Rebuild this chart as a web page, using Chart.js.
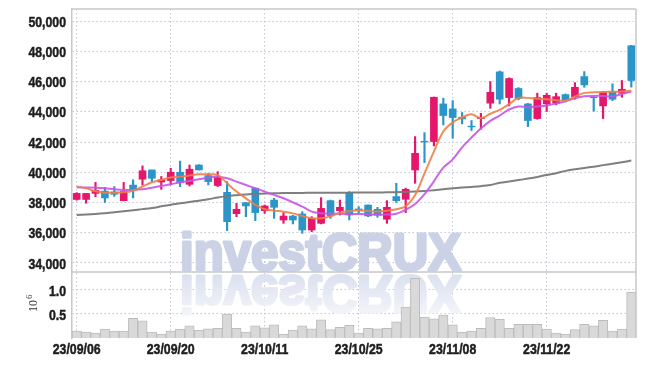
<!DOCTYPE html>
<html>
<head>
<meta charset="utf-8">
<script src="https://cdn.jsdelivr.net/npm/chart.js@4.4.0/dist/chart.umd.min.js"></script>
<style>
  body { margin: 0; background: #fff; }
</style>
</head>
<body>
<div style="width: 645px; height: 366px;">
  <canvas id="chart" width="645" height="366"></canvas>
</div>
<script>
const dates = ['23/09/06','23/09/07','23/09/08','23/09/11','23/09/12','23/09/13','23/09/14','23/09/15','23/09/18','23/09/19',
  '23/09/20','23/09/21','23/09/22','23/09/25','23/09/26','23/09/27','23/10/04','23/10/05','23/10/06','23/10/10',
  '23/10/11','23/10/12','23/10/13','23/10/16','23/10/17','23/10/18','23/10/19','23/10/20','23/10/23','23/10/24',
  '23/10/25','23/10/26','23/10/27','23/10/30','23/10/31','23/11/01','23/11/02','23/11/03','23/11/06','23/11/07',
  '23/11/08','23/11/09','23/11/10','23/11/13','23/11/14','23/11/15','23/11/16','23/11/17','23/11/20','23/11/21',
  '23/11/22','23/11/23','23/11/24','23/11/27','23/11/28','23/11/29','23/11/30','23/12/01','23/12/04','23/12/05'];

const open  = [38200,38200,38600,38750,38700,38120,39150,39540,40150,39350,39450,40000,39200,40480,39780,39120,38670,37260,37990,38940,
  37460,38160,36840,37100,37240,36180,36620,38120,37460,38650,37570,37830,37550,36890,38390,38210,40150,42050,42030,44520,
  44190,43640,43050,43550,44570,46640,44940,45540,44520,43550,44520,44570,45140,45000,46330,44960,44390,45340,45230,48370];
const high  = [38650,38600,39330,39000,39050,39330,39500,40420,40150,39720,40260,40740,40480,40500,39930,40040,39380,37940,38000,38950,
  37830,38280,37320,37150,37390,37060,38320,38160,38160,38720,37720,37840,37680,38120,39270,38950,42360,42620,44980,44900,
  44740,43950,43420,43900,46000,46700,46250,45600,44550,45230,45230,45230,45180,45930,46660,44990,45340,45850,46070,48400];
const low   = [38150,37950,38380,38000,38400,38100,38300,39150,39380,38870,39160,39050,39090,40150,39160,39050,36140,37060,37060,36800,
  37280,36950,36620,36580,35960,36070,36580,36950,37170,36840,37280,37060,37020,36620,38000,37330,39270,40640,41740,43130,
  42250,43200,42760,42850,44230,44520,44390,44790,43020,43510,44020,44460,44650,44830,45620,44040,43550,44740,44960,45630];
const close = [38600,38600,38800,38300,38540,38730,38830,40100,39600,39500,40000,39330,40200,40150,39380,39650,36730,37550,37770,37330,
  37770,37680,37100,36840,36180,36950,37610,37130,37680,37170,37490,37110,37170,37680,38120,38870,41250,42000,44960,43750,
  43620,43530,43000,43640,45290,44830,46200,44880,43420,44940,45090,45000,44790,45620,45780,44930,45300,44830,45490,46070];

// volume in millions of shares
const volume = [0.14,0.12,0.10,0.18,0.14,0.14,0.40,0.35,0.12,0.08,0.14,0.18,0.25,0.16,0.19,0.20,0.49,0.20,0.12,0.25,
  0.21,0.27,0.08,0.16,0.25,0.19,0.37,0.17,0.22,0.26,0.10,0.20,0.19,0.20,0.33,0.63,1.22,0.43,0.39,0.47,
  0.27,0.12,0.14,0.20,0.42,0.38,0.20,0.28,0.28,0.28,0.18,0.10,0.08,0.17,0.28,0.25,0.36,0.14,0.18,0.94];

// moving average lines
const ma5  = [39050,38940,38740,38650,38650,38670,38780,39050,39340,39490,39645,39710,39780,39865,39865,39820,39270,38720,38275,37835,
  37550,37460,37390,37280,37100,36950,36950,37080,37330,37420,37480,37430,37400,37450,37550,37750,38500,39930,41365,42690,
  43300,43620,43830,43570,43870,44130,44510,44920,44920,44860,44830,44770,44730,45010,45250,45285,45310,45330,45340,45390];
const ma20 = [39000,38990,38980,38940,38870,38830,38830,38870,38980,39090,39200,39335,39425,39535,39645,39710,39600,39380,39160,38940,
  38720,38500,38276,38010,37724,37392,37282,37260,37250,37240,37240,37220,37180,37200,37250,37520,37900,38550,39400,40300,
  40850,41650,42300,42900,43400,43750,44150,44350,44300,44350,44420,44550,44700,44900,45030,45050,45050,45020,45180,45330];
const ma60 = [37170,37200,37240,37290,37350,37415,37490,37560,37635,37745,37856,37945,38033,38120,38210,38330,38420,38480,38530,38570,
  38590,38610,38620,38630,38630,38640,38640,38640,38650,38650,38660,38660,38660,38670,38680,38700,38720,38760,38810,38870,
  38940,38990,39030,39080,39160,39300,39390,39480,39580,39690,39820,39940,40090,40200,40280,40370,40470,40560,40660,40770];

const priceTicks = [34000, 36000, 38000, 40000, 42000, 44000, 46000, 48000, 50000];
const volTicks = [0.5, 1.0];

const UP = '#e5176c';
const DOWN = '#2b95c9';
const candleColors = close.map((c, i) => c >= open[i] ? UP : DOWN);
const gridColor = '#c3c7d8';

// narrow bold label, drawn with a horizontal squeeze
function label(ctx, text, x, y, align) {
  ctx.save();
  ctx.translate(x, y);
  ctx.scale(0.82, 1);
  ctx.textAlign = align;
  ctx.textBaseline = 'middle';
  ctx.fillText(text, 0, 0);
  ctx.strokeText(text, 0, 0);
  ctx.restore();
}

const frame = {
  id: 'frame',
  beforeDatasetsDraw(chart) {
    // watermark with reflection
    const ctx = chart.ctx;
    const base = chart.scales.yv.top;
    const text = 'investCRUX';
    ctx.save();
    ctx.font = 'bold 51px "Liberation Sans", Arial, sans-serif';
    ctx.lineJoin = 'round';
    ctx.lineWidth = 3;
    const w = ctx.measureText(text).width;
    ctx.translate(180, base - 2);
    ctx.scale(281 / w, 1);
    ctx.fillStyle = ctx.strokeStyle = 'rgb(204,210,230)';
    ctx.fillText(text, 0, 0);
    ctx.strokeText(text, 0, 0);
    ctx.scale(1, -1);
    const g = ctx.createLinearGradient(0, -2, 0, -50);
    g.addColorStop(0, 'rgb(218,223,238)');
    g.addColorStop(1, 'rgb(246,247,251)');
    ctx.fillStyle = ctx.strokeStyle = g;
    ctx.fillText(text, 0, -6);
    ctx.strokeText(text, 0, -6);
    ctx.restore();
  },
  afterDraw(chart) {
    const ctx = chart.ctx;
    const a = chart.chartArea;
    const {x, y, yv} = chart.scales;
    ctx.save();
    ctx.strokeStyle = '#c8c8c8';
    ctx.lineWidth = 1.5;
    ctx.beginPath();
    ctx.moveTo(a.left, a.top); ctx.lineTo(a.right, a.top);
    ctx.moveTo(a.right, a.top); ctx.lineTo(a.right, a.bottom);
    ctx.moveTo(a.left, yv.top); ctx.lineTo(a.right, yv.top);
    ctx.stroke();

    ctx.fillStyle = ctx.strokeStyle = '#1e1e1e';
    ctx.lineWidth = 0.5;
    ctx.font = 'bold 15px "Liberation Sans", Arial, sans-serif';
    priceTicks.forEach(v => label(ctx, v.toLocaleString('en-US'), 66, y.getPixelForValue(v) + 1.5, 'right'));
    volTicks.forEach(v => label(ctx, v.toFixed(1), 66, yv.getPixelForValue(v) + 2.5, 'right'));
    dates.forEach((d, i) => { if (i % 10 === 0) label(ctx, d, x.getPixelForValue(i), 350, 'center'); });

    // 10^6 label of the volume axis
    ctx.translate(37, 312);
    ctx.rotate(-Math.PI / 2);
    ctx.fillStyle = '#333';
    ctx.font = '12px "Liberation Serif", serif';
    ctx.fillText('10', 0, 0);
    const w = ctx.measureText('10').width;
    ctx.font = '9px "Liberation Serif", serif';
    ctx.fillText('6', w + 1, -5);
    ctx.restore();
  }
};

new Chart(document.getElementById('chart'), {
  data: {
    labels: dates,
    datasets: [
      { type: 'line', data: ma5, yAxisID: 'y', borderColor: 'rgba(238,128,72,0.9)', borderWidth: 2, pointRadius: 0, tension: 0.35, order: 0 },
      { type: 'line', data: ma20, yAxisID: 'y', borderColor: 'rgba(198,84,232,0.9)', borderWidth: 2, pointRadius: 0, tension: 0.35, order: 0 },
      { type: 'line', data: ma60, yAxisID: 'y', borderColor: 'rgba(120,120,120,0.95)', borderWidth: 2, pointRadius: 0, tension: 0.35, order: 0 },
      { type: 'bar', data: open.map((o, i) => [o, close[i]]), yAxisID: 'y', backgroundColor: candleColors,
        barThickness: 7, grouped: false, borderSkipped: false, order: 1 },
      { type: 'bar', data: low.map((l, i) => [l, high[i]]), yAxisID: 'y', backgroundColor: candleColors,
        barThickness: 1.5, grouped: false, borderSkipped: false, order: 2 },
      { type: 'bar', data: volume, yAxisID: 'yv', backgroundColor: '#d9d9d9', borderColor: '#bcbcbc', borderWidth: 1,
        barPercentage: 1, categoryPercentage: 1, grouped: false, order: 3 }
    ]
  },
  options: {
    responsive: false,
    animation: false,
    layout: { padding: { top: 9, right: 9, left: 0, bottom: 0 } },
    plugins: { legend: { display: false }, tooltip: { enabled: false } },
    scales: {
      x: {
        type: 'category',
        offset: true,
        afterFit: s => { s.height = 28; },
        grid: { offset: false, drawTicks: false, color: c => c.index % 10 === 0 ? gridColor : 'transparent' },
        border: { display: false, dash: [1.5, 2.5] },
        ticks: { display: false, autoSkip: false }
      },
      yv: {
        position: 'left', stack: 'p', stackWeight: 66,
        min: 0, max: 1.35,
        afterBuildTicks: s => { s.ticks = volTicks.map(v => ({ value: v })); },
        afterFit: s => { s.width = 72; },
        ticks: { display: false },
        grid: { drawTicks: false, color: gridColor },
        border: { color: '#c8c8c8', width: 1.5, dash: [1.5, 2.5] }
      },
      y: {
        position: 'left', stack: 'p', stackWeight: 263,
        min: 33400, max: 50800,
        afterBuildTicks: s => { s.ticks = priceTicks.map(v => ({ value: v })); },
        afterFit: s => { s.width = 72; },
        ticks: { display: false },
        grid: { drawTicks: false, color: gridColor },
        border: { color: '#c8c8c8', width: 1.5, dash: [1.5, 2.5] }
      }
    }
  },
  plugins: [frame]
});
</script>
</body>
</html>
